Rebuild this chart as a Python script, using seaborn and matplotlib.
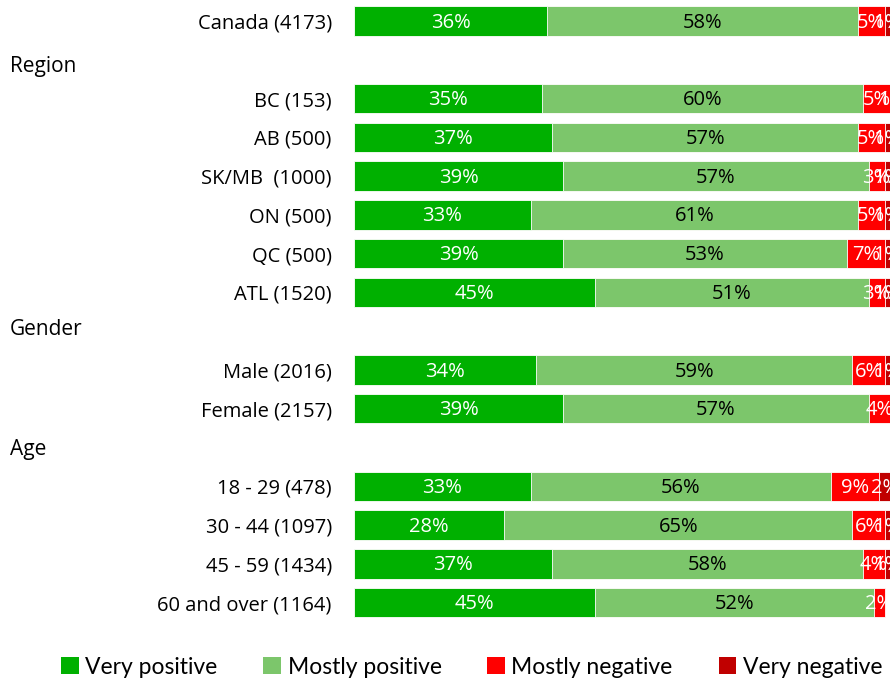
import numpy as np
import pandas as pd
import matplotlib
matplotlib.use("Agg")
import matplotlib.pyplot as plt
import matplotlib.transforms as mtransforms
import seaborn as sns
from matplotlib.patches import Patch

sns.set_style("white")
plt.rcParams['font.family'] = ['Open Sans', 'DejaVu Sans']
plt.rcParams['text.color'] = 'black'
plt.rcParams['ytick.color'] = 'black'
plt.rcParams['ytick.labelcolor'] = 'black'

# ---- data ----
rows = ["Canada (4173)", "#Region", "BC (153)", "AB (500)", "SK/MB  (1000)", "ON (500)",
        "QC (500)", "ATL (1520)", "#Gender", "Male (2016)", "Female (2157)", "#Age",
        "18 - 29 (478)", "30 - 44 (1097)", "45 - 59 (1434)", "60 and over (1164)"]
very_positive   = [36, np.nan, 35, 37, 39, 33, 39, 45, np.nan, 34, 39, np.nan, 33, 28, 37, 45]
mostly_positive = [58, np.nan, 60, 57, 57, 61, 53, 51, np.nan, 59, 57, np.nan, 56, 65, 58, 52]
mostly_negative = [5, np.nan, 5, 5, 3, 5, 7, 3, np.nan, 6, 4, np.nan, 9, 6, 4, 2]
very_negative   = [1, np.nan, 1, 1, 1, 1, 1, 1, np.nan, 1, 0, np.nan, 2, 1, 1, 0]
series_names = ["Very positive", "Mostly positive", "Mostly negative", "Very negative"]
colors = ["#00B000", "#7CC66B", "#FF0000", "#C00000"]
text_colors = ["white", "black", "white", "white"]

series = [very_positive, mostly_positive, mostly_negative, very_negative]
df = pd.DataFrame({"row": rows})
for name, vals in zip(series_names, series):
    df[name] = vals
cum = df[series_names].cumsum(axis=1)

fig = plt.figure(figsize=(8.9, 6.8), dpi=100)
ax = fig.add_axes([354/890, 1 - 622/680, 1 - 354/890, (622 - 1.6)/680])

for i in reversed(range(4)):
    sns.barplot(x=cum[series_names[i]], y=df["row"], orient="h", color=colors[i],
                width=0.76, ax=ax, saturation=1, edgecolor="white", linewidth=0.6,
                order=rows)

# value labels
for r in range(len(rows)):
    start = 0
    for i, name in enumerate(series_names):
        v = df[name].iloc[r]
        if pd.isna(v):
            break
        if v > 0:
            ax.text(start + v/2, r + 0.04, f"{int(v)}%", ha="center", va="center",
                    color=text_colors[i], fontsize=14.5)
        start += v

ax.set_xlim(0, 100)
ax.set_ylim(len(rows) - 0.5, -0.5)
ax.set_xlabel("")
ax.set_ylabel("")
ax.set_xticks([])
ticklabels = ["" if r.startswith("#") else r for r in rows]
ax.set_yticks(range(len(rows)))
ax.set_yticklabels(ticklabels, fontsize=14.5, color="black")
ax.tick_params(axis="y", length=0, pad=16)
for s in ax.spines.values():
    s.set_visible(False)

# group headings
heading_shift = {"#Region": 0.17, "#Gender": -0.05, "#Age": 0.05}
tr = mtransforms.blended_transform_factory(fig.transFigure, ax.transData)
for r, name in enumerate(rows):
    if name.startswith("#"):
        ax.text(10/890, r + heading_shift[name], name[1:], transform=tr,
                ha="left", va="center", fontsize=15, color="black")

handles = [Patch(facecolor=c, edgecolor="none", label=n) for c, n in zip(colors, series_names)]
fig.legend(handles=handles, loc="center", bbox_to_anchor=(0.53, 13/680), ncol=4,
           frameon=False, handlelength=0.75, handleheight=0.75, handletextpad=0.3,
           columnspacing=2.0, labelcolor="black",
           prop={"family": ["Lato", "DejaVu Sans"], "size": 16.5})

fig.savefig("out.png", dpi=100)
